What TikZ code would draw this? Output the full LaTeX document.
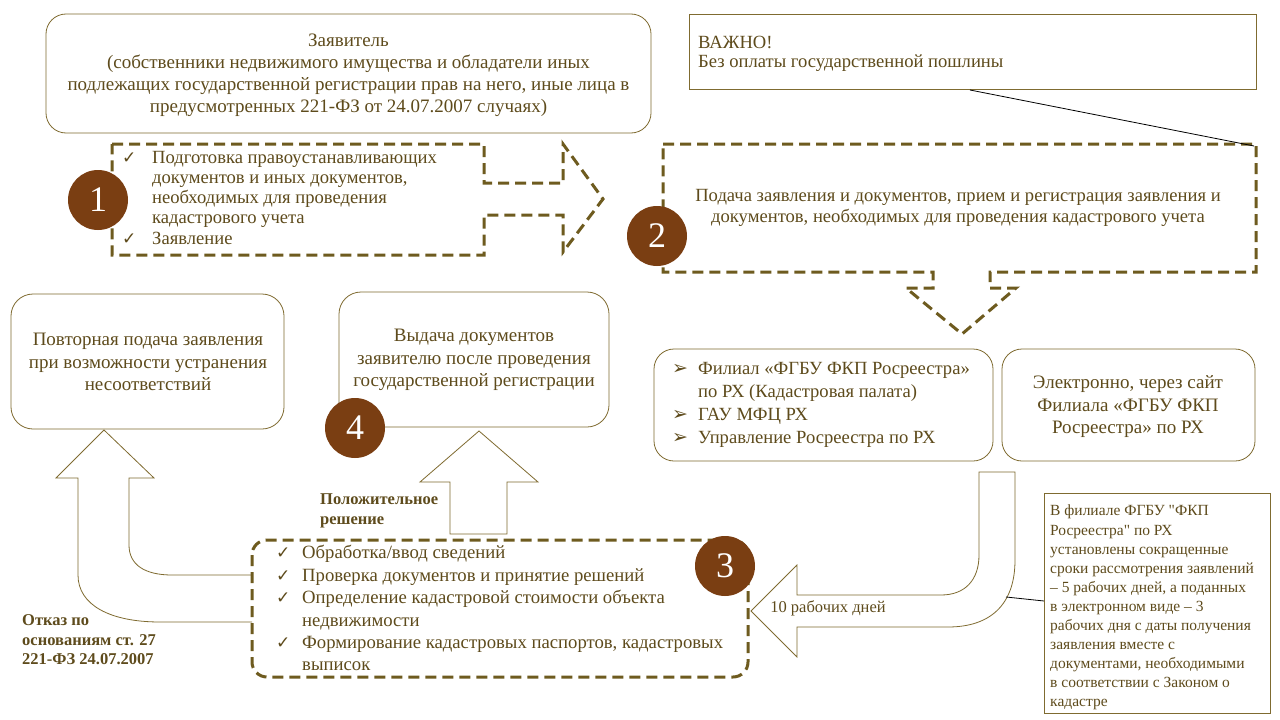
\documentclass[tikz,border=0pt]{standalone}
\usepackage{fontspec}
\setmainfont{Liberation Serif}
\newfontfamily\symf{DejaVu Sans}
\definecolor{txt}{HTML}{5E4B1C}
\definecolor{dsh}{HTML}{6E5B1F}
\definecolor{thin}{HTML}{7F6B30}
\definecolor{circ}{HTML}{7A3E12}
\newcommand\ck{\makebox[0pt][l]{\symf\fontsize{17}{17}\selectfont ✓}}
\newcommand\arb{\makebox[0pt][l]{\symf\fontsize{19}{19}\selectfont ➢}}
\newcommand\dq{\XeTeXglyph\XeTeXcharglyph"22\relax}
\begin{document}
\begin{tikzpicture}[x=1pt,y=-1pt,
  dbox/.style={draw=dsh, line width=3pt, dash pattern=on 11pt off 6pt},
  tbox/.style={draw=thin, line width=0.8pt},
  num/.style={circle, fill=circ, minimum size=60pt, inner sep=0pt, text=white, font=\fontsize{36}{36}\selectfont},
  lbl/.style={text=txt, inner sep=0pt},
  blbl/.style={text=txt, inner sep=0pt, font=\bfseries\fontsize{16.5}{19.5}\selectfont, align=left, anchor=west},
  ctxt/.style={text=txt, inner sep=0pt, align=center, font=\fontsize{19}{22.5}\selectfont},
]
\fill[white] (0,0) rectangle (1280,720);
\useasboundingbox (0,0) rectangle (1280,720);

% ---- block arrows (thin outline) ----
% left U-arrow: refusal
\draw[tbox] (252,575) -- (172,575) .. controls (145,575) and (129,565) .. (129,545) -- (129,478) -- (154,478) -- (104,430) -- (56,478) -- (78,478) -- (78,575) .. controls (78,605) and (110,622) .. (160,622) -- (252,622);
% up arrow to box 4
\draw[tbox] (450,534) -- (450,482) -- (420,482) -- (479,431) -- (538,482) -- (507,482) -- (507,534) -- cycle;
% bent arrow: 10 working days
\draw[tbox] (979,472) -- (1015,472) -- (1015,560) .. controls (1015,605) and (990,627) .. (948,627) -- (797,627) -- (797,657) -- (751,611) -- (797,565) -- (797,595) -- (941,595) .. controls (965,595) and (979,580) .. (979,555) -- cycle;
\coordinate (arrpt) at (1006,597);

% ---- top-left applicant box ----
\draw[tbox, rounded corners=20pt] (46,14) rectangle (651,133);
\node[ctxt, font=\fontsize{19}{22}\selectfont] (zav) at (348.5,75) {Заявитель\\(собственники недвижимого имущества и обладатели иных\\подлежащих государственной регистрации прав на него, иные лица в\\предусмотренных 221-ФЗ от 24.07.2007  случаях)};

% ---- step 1 dashed arrow ----
\draw[dbox] (112,144) -- (484,144) -- (484,183) -- (563,183) -- (563,144) -- (603,199) -- (563,252) -- (563,215) -- (484,215) -- (484,255) -- (112,255) -- cycle;
\node[lbl, anchor=north west, align=left, font=\fontsize{18.6}{20.2}\selectfont] (l1) at (122,149)
 {\begin{tabular}{@{}p{30pt}@{}l@{}}
  \ck & Подготовка правоустанавливающих\\
      & документов и иных документов,\\
      & необходимых для проведения\\
      & кадастрового учета\\
  \ck & Заявление
 \end{tabular}};

% ---- important box ----
\draw[tbox] (689,14) rectangle (1256,89);
\node[lbl, anchor=north west, align=left, font=\fontsize{18.6}{19}\selectfont] (imp) at (698,36) {ВАЖНО!\\Без оплаты государственной пошлины};
\coordinate (impb) at (970,90);

% ---- step 2 dashed callout ----
\draw[dbox] (663,144) -- (1256,144) -- (1256,272) -- (990,272) -- (990,288) -- (1016,288) -- (962,334) -- (906,288) -- (933,288) -- (933,272) -- (663,272) -- cycle;
\coordinate (c2) at (1254,146);
\draw[thin, line width=0.8pt] (impb) -- (c2);
\node[ctxt, font=\fontsize{18.6}{21}\selectfont] (t2) at (958,208) {Подача заявления и документов, прием и регистрация заявления и\\документов, необходимых для проведения кадастрового учета};

% ---- offices ----
\draw[tbox, rounded corners=20pt] (654,349) rectangle (993,461);
\node[lbl, anchor=north west, align=left, font=\fontsize{18.6}{23}\selectfont] (fil) at (672,358)
 {\begin{tabular}{@{}p{26pt}@{}l@{}}
  \arb & Филиал «ФГБУ ФКП Росреестра»\\
       & по РХ (Кадастровая палата)\\
  \arb & ГАУ МФЦ  РХ\\
  \arb & Управление Росреестра по РХ
 \end{tabular}};
\draw[tbox, rounded corners=20pt] (1002,349) rectangle (1255,461);
\node[ctxt] (el) at (1128,407) {Электронно, через сайт\\Филиала  «ФГБУ ФКП\\Росреестра» по РХ};

% ---- note box ----
\draw[tbox] (1044,493) rectangle (1270,713);
\node[lbl, anchor=north west, align=left, font=\fontsize{15.5}{19.1}\selectfont] (note) at (1050,505)
 {В филиале  ФГБУ \dq ФКП\\Росреестра\dq\ по  РХ\\установлены  сокращенные\\сроки  рассмотрения заявлений\\– 5 рабочих  дней,  а поданных\\в электронном   виде – 3\\рабочих  дня с даты получения\\заявления  вместе с\\документами,  необходимыми\\в соответствии с Законом  о\\кадастре};
\coordinate (notew) at (1044,601);
\draw[thin, line width=0.8pt] (notew) -- (arrpt);

% ---- result boxes ----
\draw[tbox, rounded corners=22pt] (11,294) rectangle (284,429);
\node[ctxt] (rep) at (148,362) {Повторная подача заявления\\при возможности устранения\\несоответствий};
\draw[tbox, rounded corners=22pt] (339,292) rectangle (609,427);
\node[ctxt] (iss) at (474,360) {Выдача документов\\заявителю после проведения\\государственной регистрации};

% ---- step 3 dashed box ----
\draw[dbox, rounded corners=15pt] (252,540) rectangle (748,677);
\node[lbl, anchor=north west, align=left, font=\fontsize{18.7}{22.4}\selectfont] (l3) at (276,543)
 {\begin{tabular}{@{}p{26pt}@{}l@{}}
  \ck & Обработка/ввод сведений\\
  \ck & Проверка документов и принятие решений\\
  \ck & Определение кадастровой стоимости объекта\\
      & недвижимости\\
  \ck & Формирование кадастровых паспортов, кадастровых\\
      & выписок
 \end{tabular}};

% ---- labels ----
\node[blbl] (pos) at (320,511) {Положительное\\решение};
\node[blbl] (otk) at (22,640) {Отказ по\\основаниям ст. 27\\221-ФЗ 24.07.2007};
\node[lbl, font=\fontsize{16.5}{18}\selectfont] (days) at (828,608) {10 рабочих дней};

% ---- number circles ----
\node[num] (n1) at (98,200) {1};
\node[num] (n2) at (657,236) {2};
\node[num] (n3) at (725,566) {3};
\node[num] (n4) at (355,428) {4};
\end{tikzpicture}
\end{document}
